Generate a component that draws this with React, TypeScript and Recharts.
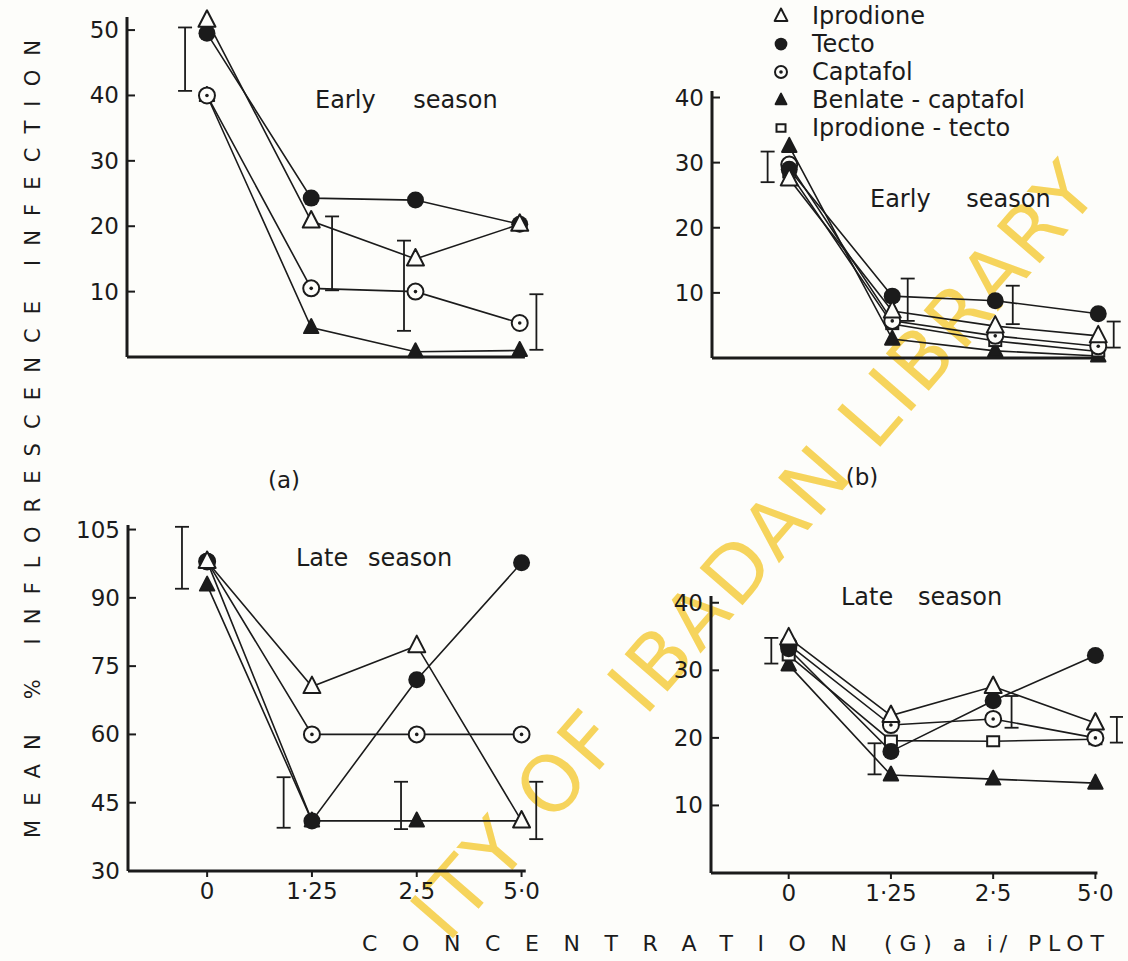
import React from 'react';
import { ComposedChart, Line, Scatter, ErrorBar, XAxis, YAxis, ReferenceLine } from 'recharts';

// categories on the x axis (g a.i. / plot)
const concentrations = ['0', '1·25', '2·5', '5·0'];
const treatments = ['Iprodione', 'Tecto', 'Captafol', 'Benlate - captafol', 'Iprodione - tecto'];
const seriesKeys = ['iprodione', 'tecto', 'captafol', 'benlate', 'iprodioneTecto'];

// (a) early season, left
const aIprodione = [51.5, 20.8, 15, 20.3];
const aTecto = [49.5, 24.3, 24, 20.3];
const aCaptafol = [40, 10.5, 10, 5.2];
const aBenlate = [40, 4.5, 0.8, 1];
const aLsdAt = [-0.21, 1.2, 1.89, 3.16];
const aLsdLow = [40.7, 10.2, 4.0, 1.1];
const aLsdHigh = [50.4, 21.5, 17.8, 9.6];

// (b) early season, right
const bIprodione = [27.5, 7.2, 4.9, 3.4];
const bTecto = [29, 9.5, 8.8, 6.8];
const bCaptafol = [29.7, 5.7, 3.4, 1.8];
const bBenlate = [32.5, 2.9, 1.1, 0.3];
const bIprodioneTecto = [28.5, 5.2, 2.6, 1.0];
const bLsdAt = [-0.21, 1.15, 2.17, 3.15];
const bLsdLow = [27, 5.7, 5.2, 1.6];
const bLsdHigh = [31.7, 12.2, 11.1, 5.6];

// (c) late season, left
const cIprodione = [98, 70.5, 79.5, 41];
const cTecto = [98, 41, 72, 97.7];
const cCaptafol = [98, 60, 60, 60];
const cBenlate = [92.8, 41, 41, 41];
const cLsdAt = [-0.24, 0.73, 1.85, 3.14];
const cLsdLow = [92, 39.5, 39.2, 37];
const cLsdHigh = [105.6, 50.6, 49.6, 49.6];

// (d) late season, right
const dIprodione = [34.8, 23.3, 27.6, 22.2];
const dTecto = [33.2, 18, 25.5, 32.2];
const dCaptafol = [33.8, 21.9, 22.8, 20];
const dBenlate = [30.8, 14.5, 13.9, 13.3];
const dIprodioneTecto = [32.2, 19.6, 19.5, 19.8];
const dLsdAt = [-0.17, 0.84, 2.18, 3.21];
const dLsdLow = [31, 14.6, 21.5, 19.3];
const dLsdHigh = [34.8, 19.2, 26.2, 23.1];

const INK = '#1b1b1b';
const PAPER = '#fdfdfa';
const FONT = '"DejaVu Sans", "Liberation Sans", sans-serif';
const YW = 70;
const MT = 10;
const XH = 50;

const markerOf: Record<string, string> = {
  iprodione: 'openTriangle',
  tecto: 'filledCircle',
  captafol: 'dotCircle',
  benlate: 'filledTriangle',
  iprodioneTecto: 'openSquare',
};

// later entries are painted on top
const drawOrder = ['benlate', 'iprodioneTecto', 'captafol', 'tecto', 'iprodione'];

function buildRows(cols: Record<string, number[]>) {
  return concentrations.map((label, i) => {
    const row: Record<string, number | string> = { x: i, label };
    Object.keys(cols).forEach((k) => { row[k] = cols[k][i]; });
    return row;
  });
}

function buildLsd(at: number[], low: number[], high: number[]) {
  return at.map((x, i) => ({ x, y: (low[i] + high[i]) / 2, err: (high[i] - low[i]) / 2 }));
}

function Marker({ kind, cx, cy, s = 1 }: { kind: string; cx: number; cy: number; s?: number }) {
  if (cx == null || cy == null) return <g />;
  if (kind === 'openTriangle' || kind === 'filledTriangle') {
    const h = kind === 'openTriangle' ? s : s * 0.85;
    const pts = `${cx},${cy - 10 * h} ${cx - 8.5 * h},${cy + 6.5 * h} ${cx + 8.5 * h},${cy + 6.5 * h}`;
    return <polygon points={pts} fill={kind === 'openTriangle' ? PAPER : INK} stroke={INK} strokeWidth={2} strokeLinejoin="round" />;
  }
  if (kind === 'filledCircle') return <circle cx={cx} cy={cy} r={8.5 * s} fill={INK} />;
  if (kind === 'dotCircle') {
    return (
      <g>
        <circle cx={cx} cy={cy} r={8 * s} fill={PAPER} stroke={INK} strokeWidth={2} />
        <circle cx={cx} cy={cy} r={1.8} fill={INK} />
      </g>
    );
  }
  return <rect x={cx - 6 * s} y={cy - 5 * s} width={12 * s} height={10 * s} fill={PAPER} stroke={INK} strokeWidth={2} />;
}

const YTick = (p: any) => (
  <g>
    <line x1={p.x} x2={p.x + 8} y1={p.y} y2={p.y} stroke={INK} strokeWidth={2} />
    <text x={p.x - 8} y={p.y} textAnchor="end" dominantBaseline="central" fontSize={23} fill={INK} fontFamily={FONT}>
      {p.payload.value}
    </text>
  </g>
);

type PanelProps = {
  rows: any[];
  lsd: any[];
  keys: string[];
  xDomain: [number, number];
  axisEnd: number;
  yDomain: [number, number];
  yTicks: number[];
  plotLeft: number;
  plotRight: number;
  plotTop: number;
  plotBottom: number;
  xLabels: boolean;
};

function Panel(props: PanelProps) {
  const { rows, lsd, keys, xDomain, axisEnd, yDomain, yTicks, plotLeft, plotRight, plotTop, plotBottom, xLabels } = props;
  const left = plotLeft - YW;
  const top = plotTop - MT;
  const width = Math.round(plotRight - left);
  const height = Math.round(plotBottom - top + XH);
  return (
    <div style={{ position: 'absolute', left, top, width, height }}>
      <ComposedChart width={width} height={height} data={rows} margin={{ top: MT, right: 0, bottom: 0, left: 0 }}>
        <XAxis
          type="number"
          dataKey="x"
          domain={xDomain}
          ticks={[0, 1, 2, 3]}
          interval={0}
          axisLine={false}
          tickLine={xLabels ? { stroke: INK, strokeWidth: 2 } : false}
          tick={xLabels ? { fontSize: 23, fill: INK, fontFamily: FONT } : false}
          tickSize={6}
          tickMargin={6}
          tickFormatter={(v: number) => concentrations[v]}
          height={XH}
        />
        <YAxis
          type="number"
          domain={yDomain}
          ticks={yTicks}
          interval={0}
          width={YW}
          axisLine={{ stroke: INK, strokeWidth: 3 }}
          tickLine={false}
          tickSize={0}
          tickMargin={0}
          tick={(p: any) => <YTick key={p.index} {...p} />}
        />
        <ReferenceLine
          segment={[{ x: xDomain[0], y: yDomain[0] }, { x: axisEnd, y: yDomain[0] }]}
          stroke={INK}
          strokeWidth={3}
          ifOverflow="visible"
        />
        {drawOrder.filter((k) => keys.includes(k)).map((k) => (
          <Line
            key={k}
            type="linear"
            dataKey={k}
            stroke={INK}
            strokeWidth={1.6}
            isAnimationActive={false}
            activeDot={false}
            dot={(p: any) => <Marker key={`${k}-${p.index}`} kind={markerOf[k]} cx={p.cx} cy={p.cy} />}
          />
        ))}
        <Scatter data={lsd} dataKey="y" isAnimationActive={false} shape={() => <g />}>
          <ErrorBar dataKey="err" direction="y" width={7} stroke={INK} strokeWidth={1.8} />
        </Scatter>
      </ComposedChart>
    </div>
  );
}

const rowsA = buildRows({ iprodione: aIprodione, tecto: aTecto, captafol: aCaptafol, benlate: aBenlate });
const rowsB = buildRows({ iprodione: bIprodione, tecto: bTecto, captafol: bCaptafol, benlate: bBenlate, iprodioneTecto: bIprodioneTecto });
const rowsC = buildRows({ iprodione: cIprodione, tecto: cTecto, captafol: cCaptafol, benlate: cBenlate });
const rowsD = buildRows({ iprodione: dIprodione, tecto: dTecto, captafol: dCaptafol, benlate: dBenlate, iprodioneTecto: dIprodioneTecto });

const lsdA = buildLsd(aLsdAt, aLsdLow, aLsdHigh);
const lsdB = buildLsd(bLsdAt, bLsdLow, bLsdHigh);
const lsdC = buildLsd(cLsdAt, cLsdLow, cLsdHigh);
const lsdD = buildLsd(dLsdAt, dLsdLow, dLsdHigh);

const textStyle = { fontFamily: FONT, fill: INK };

export default function App() {
  return (
    <div style={{ position: 'absolute', left: 0, top: 0, width: 1128, height: 961, background: PAPER, overflow: 'hidden' }}>
      <svg width={1128} height={961} style={{ position: 'absolute', left: 0, top: 0 }}>
        <text
          x={448}
          y={944}
          transform="rotate(-49, 448, 944)"
          fontSize={78}
          textLength={995}
          lengthAdjust="spacing"
          fontFamily={FONT}
          fill="#f6d04c"
          opacity={0.9}
        >
          ITY OF IBADAN LIBRARY
        </text>
      </svg>

      <Panel rows={rowsA} lsd={lsdA} keys={['iprodione', 'tecto', 'captafol', 'benlate']}
        xDomain={[-0.767, 3.3]} axisEnd={3.05} yDomain={[0, 52]} yTicks={[10, 20, 30, 40, 50]}
        plotLeft={127} plotRight={551.2} plotTop={17} plotBottom={357} xLabels={false} />
      <Panel rows={rowsB} lsd={lsdB} keys={seriesKeys}
        xDomain={[-0.75, 3.25]} axisEnd={3.04} yDomain={[0, 41]} yTicks={[10, 20, 30, 40]}
        plotLeft={712} plotRight={1124} plotTop={90.5} plotBottom={357} xLabels={false} />
      <Panel rows={rowsC} lsd={lsdC} keys={['iprodione', 'tecto', 'captafol', 'benlate']}
        xDomain={[-0.755, 3.3]} axisEnd={3.04} yDomain={[30, 106]} yTicks={[30, 45, 60, 75, 90, 105]}
        plotLeft={128} plotRight={552.6} plotTop={525.4} plotBottom={871} xLabels={true} />
      <Panel rows={rowsD} lsd={lsdD} keys={seriesKeys}
        xDomain={[-0.76, 3.27]} axisEnd={3.02} yDomain={[0, 41]} yTicks={[10, 20, 30, 40]}
        plotLeft={711} plotRight={1123.3} plotTop={596.3} plotBottom={873} xLabels={true} />

      <svg width={1128} height={961} style={{ position: 'absolute', left: 0, top: 0, pointerEvents: 'none' }}>
        <text x={315} y={100} dominantBaseline="central" fontSize={24} wordSpacing={30} {...textStyle}>Early season</text>
        <text x={870} y={199} dominantBaseline="central" fontSize={24} wordSpacing={28} {...textStyle}>Early season</text>
        <text x={296} y={558} dominantBaseline="central" fontSize={24} wordSpacing={12} {...textStyle}>Late season</text>
        <text x={841} y={597} dominantBaseline="central" fontSize={24} wordSpacing={17} {...textStyle}>Late season</text>
        <text x={284} y={480} dominantBaseline="central" textAnchor="middle" fontSize={23} {...textStyle}>(a)</text>
        <text x={862} y={477} dominantBaseline="central" textAnchor="middle" fontSize={23} {...textStyle}>(b)</text>

        {treatments.map((name, i) => (
          <g key={name}>
            <Marker kind={markerOf[seriesKeys[i]]} cx={781} cy={16 + i * 28} s={0.75} />
            <text x={812} y={16 + i * 28} dominantBaseline="central" fontSize={24} {...textStyle}>{name}</text>
          </g>
        ))}

        <text
          x={40}
          y={838}
          transform="rotate(-90, 40, 838)"
          fontSize={21}
          textLength={798}
          lengthAdjust="spacing"
          {...textStyle}
        >
          MEAN % INFLORESCENCE INFECTION
        </text>
        <text x={362} y={943} dominantBaseline="central" fontSize={22} textLength={485} lengthAdjust="spacing" {...textStyle}>
          CONCENTRATION
        </text>
        <text x={884} y={943} dominantBaseline="central" fontSize={22} textLength={220} lengthAdjust="spacing" {...textStyle}>
          (G) a i/ PLOT
        </text>
      </svg>
    </div>
  );
}
